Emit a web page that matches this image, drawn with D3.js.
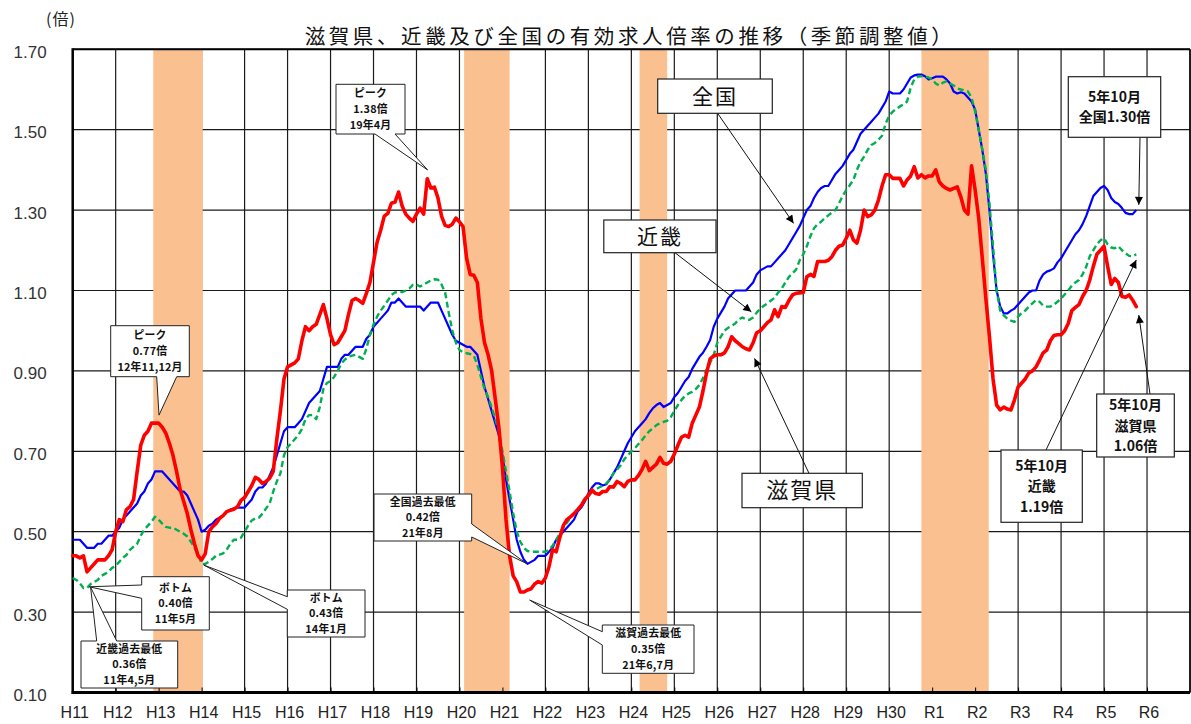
<!DOCTYPE html>
<html>
<head>
<meta charset="utf-8">
<script src="https://cdn.jsdelivr.net/npm/d3@7"></script>
<style>
  body { margin: 0; background: #fff; }
  svg { display: block; }
</style>
</head>
<body>
<div id="chart"></div>
<script>
// x axis: one label per January, H11 (1999) .. R6 (2024)
const yearLabels = ["H11","H12","H13","H14","H15","H16","H17","H18","H19","H20","H21","H22","H23",
                    "H24","H25","H26","H27","H28","H29","H30","R1","R2","R3","R4","R5","R6"];
const yTicks = [0.10, 0.30, 0.50, 0.70, 0.90, 1.10, 1.30, 1.50, 1.70];

// monthly values, Jan 1999 .. Oct 2023 (seasonally adjusted)
const zenkoku = [
  0.48,0.48,0.48,0.47,0.46,0.46,0.46,0.47,0.47,0.48,0.49,0.49,
  0.50,0.51,0.53,0.54,0.55,0.56,0.57,0.59,0.60,0.62,0.63,0.65,
  0.65,0.65,0.64,0.63,0.62,0.61,0.60,0.60,0.59,0.57,0.55,0.53,
  0.50,0.505,0.515,0.52,0.53,0.535,0.54,0.55,0.555,0.558,0.56,0.56,
  0.56,0.57,0.58,0.60,0.61,0.61,0.62,0.64,0.66,0.69,0.72,0.75,
  0.76,0.76,0.76,0.77,0.78,0.80,0.82,0.83,0.84,0.85,0.88,0.91,
  0.91,0.91,0.91,0.93,0.94,0.94,0.95,0.96,0.96,0.96,0.98,0.99,
  1.01,1.02,1.03,1.04,1.05,1.07,1.07,1.08,1.07,1.06,1.06,1.06,
  1.06,1.06,1.05,1.06,1.07,1.07,1.07,1.05,1.03,1.01,0.99,0.975,
  0.97,0.965,0.96,0.96,0.95,0.94,0.90,0.86,0.83,0.80,0.77,0.74,
  0.69,0.63,0.58,0.53,0.48,0.45,0.43,0.42,0.425,0.43,0.44,0.44,
  0.44,0.45,0.46,0.48,0.49,0.50,0.51,0.52,0.53,0.55,0.56,0.575,
  0.595,0.61,0.62,0.62,0.615,0.618,0.63,0.645,0.66,0.68,0.70,0.72,
  0.735,0.75,0.76,0.77,0.78,0.795,0.807,0.815,0.82,0.81,0.815,0.82,
  0.835,0.845,0.86,0.875,0.885,0.905,0.92,0.935,0.945,0.96,0.977,1.01,
  1.03,1.045,1.06,1.08,1.09,1.10,1.10,1.10,1.10,1.11,1.12,1.14,
  1.15,1.155,1.16,1.16,1.17,1.18,1.19,1.20,1.215,1.23,1.245,1.26,
  1.28,1.30,1.31,1.33,1.345,1.355,1.36,1.36,1.375,1.39,1.40,1.41,
  1.425,1.44,1.45,1.47,1.49,1.50,1.51,1.52,1.53,1.54,1.555,1.57,
  1.595,1.59,1.59,1.59,1.60,1.615,1.63,1.635,1.637,1.637,1.633,1.625,
  1.628,1.632,1.632,1.632,1.625,1.615,1.595,1.59,1.593,1.59,1.58,1.57,
  1.55,1.50,1.45,1.39,1.30,1.19,1.10,1.06,1.043,1.043,1.05,1.055,
  1.065,1.075,1.085,1.095,1.10,1.10,1.125,1.14,1.147,1.15,1.155,1.17,
  1.18,1.195,1.21,1.225,1.24,1.25,1.265,1.285,1.31,1.335,1.345,1.355,
  1.36,1.35,1.33,1.32,1.315,1.305,1.293,1.29,1.29,1.30
];
const kinki = [
  0.385,0.38,0.372,0.36,0.36,0.37,0.375,0.38,0.39,0.395,0.40,0.41,
  0.415,0.425,0.435,0.442,0.455,0.463,0.47,0.49,0.505,0.515,0.525,0.537,
  0.53,0.52,0.512,0.51,0.51,0.505,0.50,0.495,0.488,0.475,0.46,0.445,
  0.42,0.42,0.425,0.432,0.44,0.443,0.446,0.455,0.47,0.48,0.48,0.485,
  0.50,0.515,0.528,0.533,0.535,0.545,0.558,0.57,0.60,0.625,0.645,0.69,
  0.71,0.72,0.73,0.74,0.755,0.78,0.79,0.79,0.78,0.81,0.855,0.87,
  0.875,0.885,0.90,0.918,0.928,0.935,0.938,0.94,0.935,0.93,0.955,0.99,
  1.015,1.035,1.05,1.062,1.075,1.089,1.095,1.097,1.096,1.10,1.105,1.114,
  1.115,1.11,1.115,1.12,1.125,1.128,1.127,1.115,1.095,1.045,1.00,0.97,
  0.952,0.946,0.944,0.942,0.938,0.915,0.885,0.855,0.835,0.81,0.78,0.75,
  0.70,0.65,0.60,0.546,0.50,0.475,0.46,0.452,0.45,0.45,0.45,0.45,
  0.45,0.455,0.465,0.48,0.495,0.51,0.522,0.535,0.545,0.555,0.565,0.58,
  0.59,0.598,0.605,0.61,0.614,0.62,0.629,0.645,0.655,0.665,0.68,0.69,
  0.70,0.708,0.718,0.728,0.74,0.75,0.757,0.765,0.77,0.773,0.776,0.785,
  0.80,0.815,0.828,0.838,0.844,0.848,0.855,0.865,0.882,0.902,0.92,0.94,
  0.97,0.985,1.00,1.007,1.012,1.018,1.028,1.033,1.028,1.027,1.033,1.045,
  1.055,1.062,1.068,1.075,1.082,1.095,1.105,1.12,1.134,1.143,1.152,1.175,
  1.19,1.21,1.235,1.255,1.265,1.271,1.28,1.287,1.294,1.30,1.317,1.335,
  1.35,1.362,1.375,1.40,1.42,1.433,1.45,1.462,1.467,1.475,1.485,1.515,
  1.535,1.545,1.552,1.558,1.563,1.57,1.605,1.625,1.632,1.633,1.632,1.63,
  1.625,1.615,1.61,1.617,1.62,1.615,1.61,1.603,1.60,1.598,1.595,1.58,
  1.545,1.50,1.45,1.40,1.317,1.21,1.10,1.05,1.038,1.03,1.025,1.022,
  1.035,1.044,1.05,1.06,1.068,1.076,1.072,1.062,1.06,1.06,1.065,1.072,
  1.08,1.09,1.10,1.112,1.12,1.126,1.14,1.159,1.185,1.20,1.215,1.225,
  1.23,1.215,1.207,1.205,1.21,1.20,1.193,1.186,1.185,1.19
];
const shiga = [
  0.44,0.44,0.435,0.44,0.40,0.41,0.42,0.43,0.43,0.43,0.44,0.455,
  0.50,0.53,0.525,0.555,0.562,0.58,0.65,0.715,0.74,0.75,0.77,0.77,
  0.77,0.76,0.745,0.72,0.69,0.65,0.605,0.575,0.545,0.505,0.47,0.44,
  0.43,0.445,0.50,0.512,0.52,0.533,0.54,0.55,0.553,0.556,0.562,0.578,
  0.585,0.60,0.615,0.635,0.63,0.62,0.625,0.633,0.65,0.73,0.80,0.88,
  0.91,0.915,0.92,0.93,0.975,1.01,1.00,1.01,1.016,1.04,1.065,1.03,
  0.99,0.965,0.97,0.985,1.00,1.04,1.075,1.08,1.075,1.068,1.093,1.12,
  1.17,1.22,1.25,1.285,1.292,1.317,1.32,1.345,1.31,1.29,1.28,1.272,
  1.29,1.305,1.29,1.378,1.355,1.357,1.33,1.285,1.262,1.259,1.265,1.28,
  1.271,1.259,1.18,1.14,1.138,1.12,1.03,0.97,0.94,0.90,0.83,0.76,
  0.66,0.53,0.44,0.39,0.375,0.35,0.35,0.355,0.358,0.37,0.376,0.372,
  0.385,0.413,0.455,0.45,0.485,0.515,0.53,0.537,0.545,0.555,0.565,0.58,
  0.59,0.604,0.595,0.593,0.60,0.60,0.612,0.611,0.625,0.62,0.612,0.625,
  0.629,0.629,0.64,0.655,0.675,0.652,0.66,0.668,0.685,0.67,0.668,0.675,
  0.693,0.715,0.735,0.74,0.735,0.77,0.79,0.81,0.85,0.895,0.93,0.937,
  0.94,0.94,0.945,0.96,0.985,0.975,0.968,0.96,0.955,0.952,0.97,0.995,
  1.00,1.01,1.02,1.027,1.052,1.035,1.06,1.058,1.075,1.089,1.093,1.094,
  1.095,1.134,1.14,1.135,1.172,1.172,1.172,1.175,1.184,1.20,1.21,1.213,
  1.23,1.25,1.226,1.218,1.25,1.30,1.284,1.288,1.30,1.325,1.36,1.388,
  1.388,1.379,1.379,1.379,1.36,1.375,1.385,1.408,1.38,1.388,1.38,1.385,
  1.385,1.40,1.37,1.36,1.354,1.35,1.354,1.358,1.333,1.30,1.29,1.41,
  1.35,1.28,1.18,1.08,0.985,0.88,0.815,0.803,0.81,0.805,0.803,0.828,
  0.86,0.87,0.88,0.895,0.90,0.91,0.927,0.945,0.952,0.975,0.988,0.99,
  0.99,1.00,1.018,1.05,1.058,1.065,1.085,1.10,1.126,1.16,1.19,1.20,
  1.21,1.16,1.115,1.13,1.12,1.085,1.083,1.089,1.076,1.06
];

// recession periods, in months counted from Jan 1999
const recessions = [[22.5, 36.3], [109.3, 122.0], [158.3, 166.0], [237.0, 255.8]];

const W = 1191, H = 724;
const plotL = 72.7, plotR = 1190, plotT = 49.3, plotB = 692.5;

const x = d3.scaleLinear().domain([0, 312]).range([plotL, plotR]);
const y = d3.scaleLinear().domain([0.1, 1.7]).range([plotB, plotT]);

const svg = d3.select("#chart").append("svg")
    .attr("width", W).attr("height", H)
    .style("background", "#fff");

const jp = "'Noto Sans CJK JP', 'Noto Sans', sans-serif";
const num = "'Liberation Sans', Arial, sans-serif";

// title and unit
svg.append("text")
    .attr("x", 630).attr("y", 44)
    .attr("text-anchor", "middle")
    .attr("font-family", jp).attr("font-size", 20.5)
    .attr("letter-spacing", 3.6)
    .attr("fill", "#111")
    .text("滋賀県、近畿及び全国の有効求人倍率の推移（季節調整値）");

svg.append("text")
    .attr("x", 61).attr("y", 25)
    .attr("text-anchor", "middle")
    .attr("font-family", jp).attr("font-size", 16)
    .attr("letter-spacing", 1)
    .attr("fill", "#222")
    .text("(倍)");

// grid
const monthTicks = d3.range(0, 313, 12);
svg.append("g").selectAll("line").data(monthTicks).join("line")
    .attr("x1", d => x(d)).attr("x2", d => x(d))
    .attr("y1", plotT).attr("y2", plotB)
    .attr("stroke", "#1a1a1a").attr("stroke-width", 1.2);
svg.append("g").selectAll("line").data(yTicks).join("line")
    .attr("x1", plotL).attr("x2", plotR)
    .attr("y1", d => y(d)).attr("y2", d => y(d))
    .attr("stroke", "#1a1a1a").attr("stroke-width", 1.2);

// recession bands over the grid
svg.append("g").selectAll("rect").data(recessions).join("rect")
    .attr("x", d => x(d[0])).attr("width", d => x(d[1]) - x(d[0]))
    .attr("y", plotT).attr("height", plotB - plotT)
    .attr("fill", "#FAC090");

// axes
const xAxis = svg.append("g")
    .attr("transform", `translate(0,${plotB})`)
    .call(d3.axisBottom(x)
        .tickValues(d3.range(0, 301, 12))
        .tickFormat((d, i) => yearLabels[i])
        .tickSize(-5).tickPadding(14));
xAxis.select(".domain").remove();
xAxis.selectAll("line").attr("stroke", "#000").attr("stroke-width", 1);
xAxis.selectAll("text")
    .attr("font-family", num).attr("font-size", 16)
    .attr("fill", "#222").attr("dx", 1.5);

const yAxis = svg.append("g")
    .attr("transform", `translate(${plotL},0)`)
    .call(d3.axisLeft(y)
        .tickValues(yTicks)
        .tickFormat(d3.format(".2f"))
        .tickSize(0).tickPadding(26));
yAxis.select(".domain").remove();
yAxis.selectAll("text")
    .attr("font-family", num).attr("font-size", 17)
    .attr("fill", "#333").attr("dy", "0.47em");

// frame
svg.append("line").attr("x1", plotL).attr("x2", plotR).attr("y1", plotT).attr("y2", plotT)
    .attr("stroke", "#000").attr("stroke-width", 2);
svg.append("line").attr("x1", plotR).attr("x2", plotR).attr("y1", plotT).attr("y2", plotB)
    .attr("stroke", "#000").attr("stroke-width", 1.5);
svg.append("line").attr("x1", plotL).attr("x2", plotL).attr("y1", plotT - 1).attr("y2", plotB + 1.5)
    .attr("stroke", "#000").attr("stroke-width", 2.5);
svg.append("line").attr("x1", plotL - 1).attr("x2", plotR).attr("y1", plotB).attr("y2", plotB)
    .attr("stroke", "#000").attr("stroke-width", 2.8);

// series lines
const line = d3.line().x((d, i) => x(i)).y(d => y(d));

svg.append("path").datum(zenkoku).attr("d", line)
    .attr("fill", "none").attr("stroke", "#0000FF").attr("stroke-width", 2.2)
    .attr("stroke-linejoin", "round");
svg.append("path").datum(kinki).attr("d", line)
    .attr("fill", "none").attr("stroke", "#00B050").attr("stroke-width", 2.4)
    .attr("stroke-dasharray", "6,3.5").attr("stroke-linejoin", "round");
svg.append("path").datum(shiga).attr("d", line)
    .attr("fill", "none").attr("stroke", "#FF0000").attr("stroke-width", 3.6)
    .attr("stroke-linejoin", "round").attr("stroke-linecap", "round");

// multi-line text, one <text> per line, centred in the box
function multiline(sel, c, size, weight, lh, spacing) {
  const cx = (c.box[0] + c.box[2]) / 2, cy = (c.box[1] + c.box[3]) / 2;
  const n = c.lines.length;
  sel.selectAll("text").data(c.lines).join("text")
      .attr("x", cx)
      .attr("y", (d, i) => cy + (i - (n - 1) / 2) * lh)
      .attr("dy", "0.36em")
      .attr("text-anchor", "middle")
      .attr("font-family", jp).attr("font-size", size).attr("font-weight", weight)
      .attr("letter-spacing", spacing)
      .attr("fill", "#111")
      .text(d => d);
}

// callouts with a wedge pointer
const callouts = [
  { lines: ["ピーク", "1.38倍", "19年4月"], box: [336, 84.3, 405, 134], side: "bottom", a: 375, b: 395, tip: [99.1, 1.40] },
  { lines: ["ピーク", "0.77倍", "12年11,12月"], box: [110.7, 325.7, 189.3, 376.7], side: "bottom", a: 156.7, b: 176.7, tip: [24.1, 0.79] },
  { lines: ["ボトム", "0.40倍", "11年5月"], box: [141.7, 576.7, 209.3, 630], side: "left", a: 585, b: 598.3, tip: [4.6, 0.363] },
  { lines: ["近畿過去最低", "0.36倍", "11年4,5月"], box: [81, 641, 177.7, 688], side: "top", a: 96.7, b: 116.7, tip: [5, 0.362] },
  { lines: ["ボトム", "0.43倍", "14年1月"], box: [287.3, 590, 365, 637], side: "left", a: 596.7, b: 609.3, tip: [36.6, 0.417] },
  { lines: ["全国過去最低", "0.42倍", "21年8月"], box: [374, 494, 471.7, 541], side: "right", a: 524, b: 537, tip: [126.7, 0.421] },
  { lines: ["滋賀過去最低", "0.35倍", "21年6,7月"], box: [602.3, 625, 694, 673.3], side: "left", a: 631.7, b: 645, tip: [127.6, 0.33] }
];

function bubble(c) {
  const [x0, y0, x1, y1] = c.box;
  const tx = x(c.tip[0]), ty = y(c.tip[1]);
  const p = d3.path();
  p.moveTo(x0, y0);
  if (c.side === "top") { p.lineTo(c.a, y0); p.lineTo(tx, ty); p.lineTo(c.b, y0); }
  p.lineTo(x1, y0);
  if (c.side === "right") { p.lineTo(x1, c.a); p.lineTo(tx, ty); p.lineTo(x1, c.b); }
  p.lineTo(x1, y1);
  if (c.side === "bottom") { p.lineTo(c.b, y1); p.lineTo(tx, ty); p.lineTo(c.a, y1); }
  p.lineTo(x0, y1);
  if (c.side === "left") { p.lineTo(x0, c.b); p.lineTo(tx, ty); p.lineTo(x0, c.a); }
  p.closePath();
  return p.toString();
}

const cg = svg.append("g").selectAll("g").data(callouts).join("g");
cg.append("path").attr("d", bubble)
    .attr("fill", "#fff").attr("stroke", "#222").attr("stroke-width", 1);
cg.each(function(c) { multiline(d3.select(this), c, 10.8, "bold", 15.7, 0.2); });

// arrow labels
svg.append("defs").append("marker")
    .attr("id", "arrow").attr("viewBox", "0 0 10 10")
    .attr("refX", 10).attr("refY", 5)
    .attr("markerUnits", "userSpaceOnUse")
    .attr("markerWidth", 10).attr("markerHeight", 8)
    .attr("orient", "auto")
  .append("path").attr("d", "M0,0L10,5L0,10z").attr("fill", "#000");

const labels = [
  { lines: ["全国"], box: [657.7, 79, 772.3, 113.3], from: [717.6, 113.3], tip: [201.3, 1.267], size: 21, weight: "normal", lh: 0 },
  { lines: ["近畿"], box: [603.8, 220, 716, 252.7], from: [675, 252.7], tip: [189.5, 1.047], size: 21, weight: "normal", lh: 0 },
  { lines: ["滋賀県"], box: [742, 473.3, 862.3, 507.7], from: [809, 473.3], tip: [190.4, 0.931], size: 22, weight: "normal", lh: 0 },
  { lines: ["5年10月", "全国1.30倍"], box: [1068.3, 76.7, 1160.7, 137.3], from: [1140, 137.3], tip: [297.7, 1.313], size: 14, weight: "bold", lh: 20.5 },
  { lines: ["5年10月", "近畿", "1.19倍"], box: [1001, 450, 1082.3, 522.3], from: [1046, 450], tip: [297.0, 1.176], size: 14, weight: "bold", lh: 20.5 },
  { lines: ["5年10月", "滋賀県", "1.06倍"], box: [1096.7, 394, 1174.3, 457], from: [1150, 394], tip: [297.7, 1.039], size: 14, weight: "bold", lh: 20.5 }
];

const lg = svg.append("g").selectAll("g").data(labels).join("g");
lg.append("line")
    .attr("x1", d => d.from[0]).attr("y1", d => d.from[1])
    .attr("x2", d => x(d.tip[0])).attr("y2", d => y(d.tip[1]))
    .attr("stroke", "#111").attr("stroke-width", 1)
    .attr("marker-end", "url(#arrow)");
lg.append("rect")
    .attr("x", d => d.box[0]).attr("y", d => d.box[1])
    .attr("width", d => d.box[2] - d.box[0]).attr("height", d => d.box[3] - d.box[1])
    .attr("fill", "#fff").attr("stroke", "#222").attr("stroke-width", 1.2);
lg.each(function(c) {
  multiline(d3.select(this), c, c.size, c.weight, c.lh, c.weight === "normal" ? 2 : 0);
});
</script>
</body>
</html>
